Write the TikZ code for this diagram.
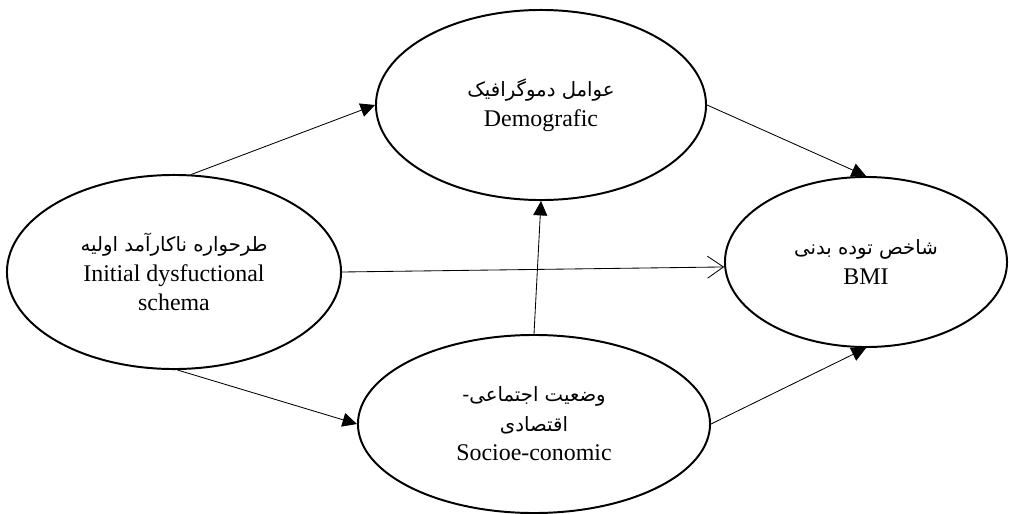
\documentclass[tikz,border=0pt]{standalone}
\usepackage{fontspec}
\setmainfont{Liberation Serif}
\newfontfamily\farsi[Script=Arabic]{DejaVu Sans}
\TeXXeTstate=1
\usetikzlibrary{shapes.geometric}
\usetikzlibrary{arrows.meta}

\newcommand{\fa}[1]{{\farsi\fontsize{14}{22}\selectfont\beginR #1\endR}}

\tikzset{
  factor/.style={ellipse, draw, line width=1.4pt, inner sep=0pt, align=center,
    font=\fontsize{17}{21}\selectfont},
  path/.style={line width=0.6pt, -{Triangle[length=3.6mm,width=3.5mm]}},
  direct/.style={line width=0.6pt, -{Straight Barb[length=4mm,width=5.5mm,line width=0.6pt]}}
}

\begin{document}
\begin{tikzpicture}[x=0.025cm, y=-0.025cm]
            \useasboundingbox (0,0) rectangle (1009,514);

            % factors
            \node[factor, minimum width=8.35cm, minimum height=4.85cm] (init) at (174,272)
                {\fa{طرحواره ناکارآمد اولیه}\\Initial dysfuctional\\schema};
            \node[factor, minimum width=8.25cm, minimum height=4.75cm] (demo) at (541,105)
                {\fa{عوامل دموگرافیک}\\Demografic};
            \node[factor, minimum width=8.8cm, minimum height=4.45cm] (socio) at (534,424)
                {\fa{وضعیت اجتماعی-}\\\fa{اقتصادی}\\Socioe-conomic};
            \node[factor, minimum width=7.05cm, minimum height=4.25cm] (bmi) at (866,262)
                {\fa{شاخص توده بدنی}\\BMI};

            % paths
            \draw[path] (init.80) -- (demo.west);
            \draw[path] (init.-88) -- (socio.west);
            \draw[direct] (init.east) -- (bmi.182);
            \draw[path] (socio.north) -- (demo.south);
            \draw[path] (demo.east) -- (bmi.north);
            \draw[path] (socio.east) -- (bmi.south);
        \end{tikzpicture}
\end{document}
